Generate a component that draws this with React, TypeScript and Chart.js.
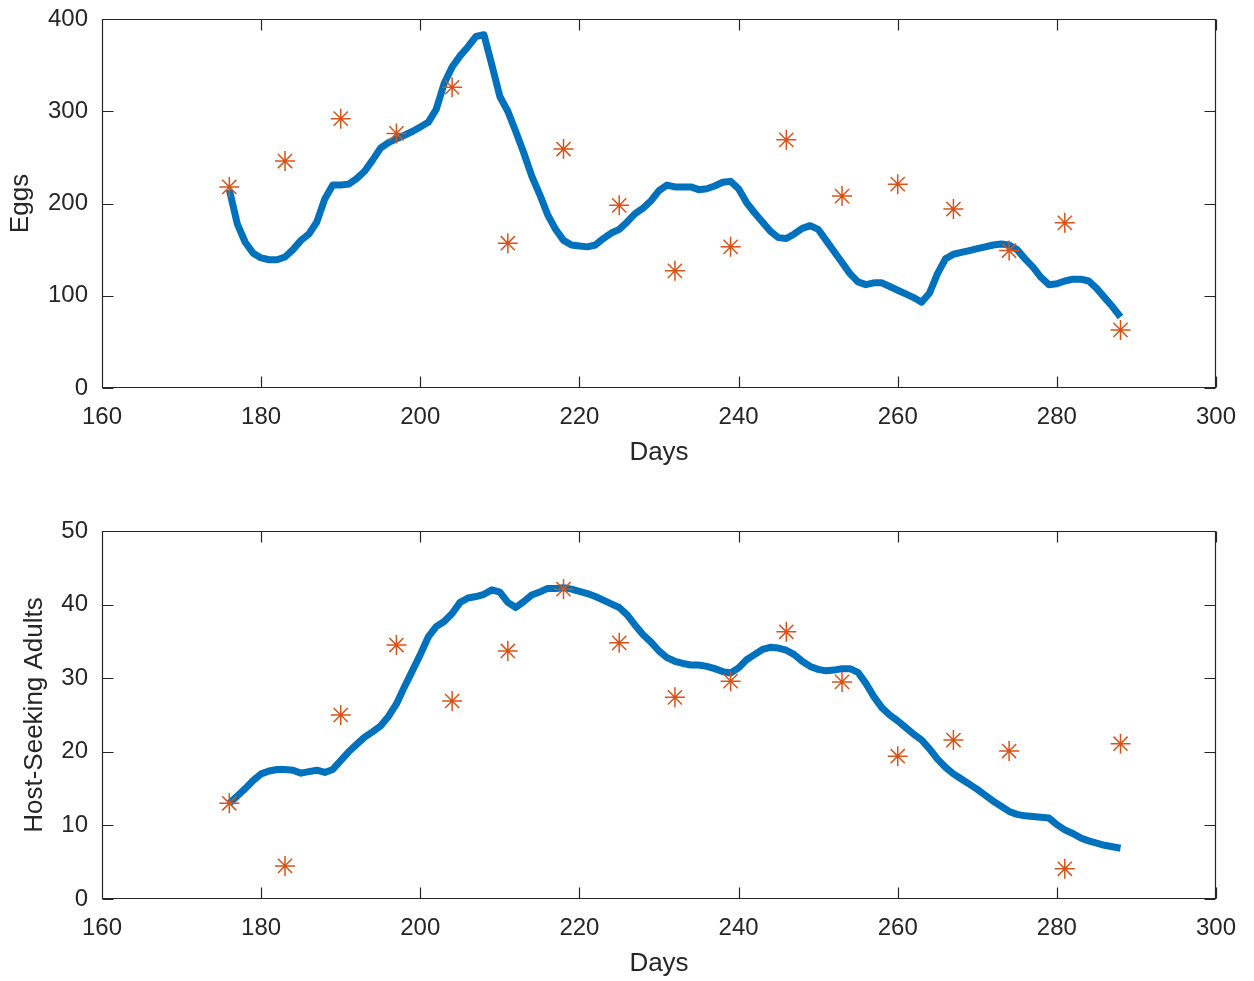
import React, { useEffect, useRef } from "react";
import { Chart, registerables } from "chart.js";

Chart.register(...registerables);

// ---------- data ----------
const lineDays = [
  176, 177, 178, 179, 180, 181, 182, 183, 184, 185, 186, 187, 188, 189, 190, 191, 192, 193, 194, 195,
  196, 197, 198, 199, 200, 201, 202, 203, 204, 205, 206, 207, 208, 209, 210, 211, 212, 213, 214, 215,
  216, 217, 218, 219, 220, 221, 222, 223, 224, 225, 226, 227, 228, 229, 230, 231, 232, 233, 234, 235,
  236, 237, 238, 239, 240, 241, 242, 243, 244, 245, 246, 247, 248, 249, 250, 251, 252, 253, 254, 255,
  256, 257, 258, 259, 260, 261, 262, 263, 264, 265, 266, 267, 268, 269, 270, 271, 272, 273, 274, 275,
  276, 277, 278, 279, 280, 281, 282, 283, 284, 285, 286, 287, 288,
];

const eggsModel = [
  215, 178, 158, 146, 141, 139, 139, 142, 150, 160, 167, 180, 205, 220, 220, 221, 227, 235, 247, 260,
  266, 270, 274, 278, 283, 288, 302, 330, 348, 360, 370, 381, 383, 350, 316, 300, 278, 255, 230, 210,
  188, 172, 160, 155, 154, 153, 155, 162, 168, 172, 180, 189, 195, 203, 214, 220, 218, 218, 218, 215,
  216, 219, 223, 224, 216, 201, 190, 180, 170, 163, 162, 167, 173, 176, 172, 160, 148, 136, 124, 115,
  112, 114, 114, 110, 106, 102, 98, 93, 103, 124, 140, 145, 147, 149, 151, 153, 155, 156, 155, 150,
  140, 131, 120, 112, 113, 116, 118, 118, 116, 108, 98, 88, 77,
];

const adultsModel = [
  13.0, 14.0, 15.0, 16.1, 17.0, 17.4, 17.6, 17.6, 17.5, 17.1, 17.3, 17.5, 17.2, 17.6, 18.8, 20.0, 21.0, 22.0, 22.7, 23.5,
  24.8, 26.5, 28.8, 31.0, 33.2, 35.6, 37.0, 37.7, 38.8, 40.3, 40.9, 41.1, 41.4, 42.0, 41.7, 40.3, 39.6, 40.4, 41.3, 41.7,
  42.2, 42.2, 42.3, 42.1, 41.8, 41.5, 41.1, 40.6, 40.1, 39.6, 38.6, 37.2, 35.9, 34.9, 33.7, 32.8, 32.3, 32.0, 31.8, 31.8,
  31.6, 31.3, 30.9, 30.7, 31.4, 32.5, 33.2, 33.9, 34.2, 34.1, 33.8, 33.2, 32.3, 31.6, 31.2, 31.0, 31.1, 31.3, 31.3, 30.8,
  29.3, 27.5, 26.0, 25.0, 24.2, 23.3, 22.4, 21.6, 20.4, 19.0, 17.9, 17.0, 16.3, 15.6, 14.9, 14.1, 13.3, 12.6, 11.9, 11.5,
  11.3, 11.2, 11.1, 11.0, 10.1, 9.4, 8.9, 8.3, 7.9, 7.6, 7.3, 7.1, 6.9,
];

const obsDays = [176, 183, 190, 197, 204, 211, 218, 225, 232, 239, 246, 253, 260, 267, 274, 281, 288];
const eggsObs = [218, 246, 292, 276, 326, 157, 259, 198, 127, 153, 269, 208, 221, 194, 149, 179, 63];
const adultsObs = [13.0, 4.5, 25.0, 34.5, 26.9, 33.7, 42.1, 34.8, 27.4, 29.6, 36.3, 29.5, 19.4, 21.6, 20.1, 4.1, 21.1];

const xTitle = "Days";
const eggsTitle = "Eggs";
const adultsTitle = "Host-Seeking Adults";

// ---------- styling ----------
const FONT = '"Liberation Sans", Arial, Helvetica, sans-serif';
const AXIS = "#262626";
const BLUE = "#0072BD";
const ORANGE = "#D95319";
const W = 1254;

const boxTicks = {
  id: "boxTicks",
  beforeDatasetsDraw(chart: any) {
    const { ctx, chartArea } = chart;
    const x = chart.scales.x;
    const y = chart.scales.y;
    const L = Math.round(chartArea.left) + 0.5;
    const R = Math.round(chartArea.right) - 0.5;
    const T = Math.round(chartArea.top) + 0.5;
    const B = Math.round(chartArea.bottom) - 0.5;
    const len = 11;
    ctx.save();
    ctx.strokeStyle = AXIS;
    ctx.lineWidth = 1.2;
    ctx.beginPath();
    ctx.rect(L, T, R - L, B - T);
    x.ticks.forEach((t: any) => {
      const px = Math.round(x.getPixelForValue(t.value)) + 0.5;
      ctx.moveTo(px, B);
      ctx.lineTo(px, B - len);
      ctx.moveTo(px, T);
      ctx.lineTo(px, T + len);
    });
    y.ticks.forEach((t: any) => {
      const py = Math.round(y.getPixelForValue(t.value)) + 0.5;
      ctx.moveTo(L, py);
      ctx.lineTo(L + len, py);
      ctx.moveTo(R, py);
      ctx.lineTo(R - len, py);
    });
    ctx.stroke();
    ctx.restore();
  },
};

function makeConfig(opts: {
  model: number[];
  obs: number[];
  yMax: number;
  yStep: number;
  yTitle: string;
  padTop: number;
  xHeight: number;
  xTitleBottom: number;
  yTitleTop: number;
}) {
  return {
    type: "line" as const,
    data: {
      datasets: [
        {
          label: "obs",
          data: obsDays.map((d, i) => ({ x: d, y: opts.obs[i] })),
          showLine: false,
          pointStyle: "star",
          pointRadius: 10,
          pointHoverRadius: 10,
          borderColor: ORANGE,
          backgroundColor: ORANGE,
          pointBorderWidth: 1.5,
          order: 0,
        },
        {
          label: "model",
          data: lineDays.map((d, i) => ({ x: d, y: opts.model[i] })),
          borderColor: BLUE,
          borderWidth: 7,
          pointRadius: 0,
          tension: 0,
          borderJoinStyle: "round",
          borderCapStyle: "butt",
          fill: false,
          order: 1,
        },
      ],
    },
    options: {
      animation: false,
      responsive: false,
      maintainAspectRatio: false,
      events: [],
      layout: { padding: { top: opts.padTop, right: 38, left: 0, bottom: 0 } },
      plugins: { legend: { display: false }, tooltip: { enabled: false } },
      scales: {
        x: {
          type: "linear",
          min: 160,
          max: 300,
          afterFit: (s: any) => {
            s.height = opts.xHeight;
            s.paddingLeft = 0;
            s.paddingRight = 0;
          },
          grid: { display: false, drawTicks: false },
          border: { display: false },
          ticks: {
            stepSize: 20,
            padding: 15,
            color: AXIS,
            font: { family: FONT, size: 24 },
            maxRotation: 0,
          },
          title: {
            display: true,
            text: xTitle,
            color: AXIS,
            font: { family: FONT, size: 26 },
            padding: { top: 0, bottom: opts.xTitleBottom },
          },
        },
        y: {
          type: "linear",
          min: 0,
          max: opts.yMax,
          afterFit: (s: any) => {
            s.width = 102;
            s.paddingTop = 0;
            s.paddingBottom = 0;
          },
          grid: { display: false, drawTicks: false },
          border: { display: false },
          ticks: {
            stepSize: opts.yStep,
            padding: 14,
            color: AXIS,
            font: { family: FONT, size: 24 },
          },
          title: {
            display: true,
            text: opts.yTitle,
            color: AXIS,
            font: { family: FONT, size: 26 },
            padding: { top: opts.yTitleTop, bottom: 0 },
          },
        },
      },
    },
    plugins: [boxTicks],
  };
}

function Panel(props: { top: number; height: number; config: any }) {
  const ref = useRef<HTMLCanvasElement | null>(null);
  useEffect(() => {
    if (!ref.current) return;
    const chart = new Chart(ref.current, props.config);
    return () => chart.destroy();
  }, []);
  return (
    <canvas
      ref={ref}
      width={W}
      height={props.height}
      style={{ position: "absolute", left: 0, top: props.top, width: W, height: props.height }}
    />
  );
}

export default function App() {
  const topCfg = makeConfig({
    model: eggsModel,
    obs: eggsObs,
    yMax: 400,
    yStep: 100,
    yTitle: eggsTitle,
    padTop: 19,
    xHeight: 102,
    xTitleBottom: 22,
    yTitleTop: 5,
  });
  const botCfg = makeConfig({
    model: adultsModel,
    obs: adultsObs,
    yMax: 50,
    yStep: 10,
    yTitle: adultsTitle,
    padTop: 41,
    xHeight: 82,
    xTitleBottom: 2,
    yTitleTop: 19,
  });
  return (
    <div style={{ position: "absolute", left: 0, top: 0, width: W, height: 981, background: "#fff" }}>
      <Panel top={0} height={490} config={topCfg} />
      <Panel top={490} height={491} config={botCfg} />
    </div>
  );
}
